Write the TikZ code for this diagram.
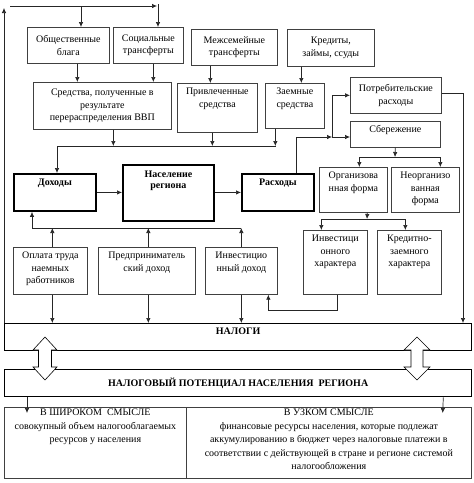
\documentclass[tikz,border=0pt]{standalone}
\usepackage{fontspec}
\setmainfont{Liberation Serif}
\usetikzlibrary{arrows.meta}
\newcommand{\tbx}[4][5pt]{\parbox[c][#3][t]{#2}{\centering\vspace*{#1}#4\par}}
\newcommand{\cbx}[3]{\parbox[c][#2][c]{#1}{\centering #3\par}}
\begin{document}
\begin{tikzpicture}[x=1pt,y=-1pt,
  box/.style={draw=black!75,line width=0.7pt,inner sep=0pt,anchor=north west,
    font=\fontsize{10}{12.5}\selectfont},
  thickbox/.style={box,draw=black,line width=1.8pt,font=\fontsize{10}{11.5}\selectfont\bfseries},
  taxbox/.style={box,draw=black,line width=1.3pt,font=\fontsize{10}{12}\selectfont\bfseries},
  cell/.style={box,draw=black!75,line width=0.7pt,font=\fontsize{10}{13.5}\selectfont},
  arr/.style={draw=black!85,line width=0.7pt,-{Latex[length=5pt,width=4.5pt]}},
  ln/.style={draw=black!85,line width=0.7pt},
  dbl/.style={draw=black,line width=0.6pt,fill=white}]
\useasboundingbox (0,0) rectangle (474,483);

% boxes
\node[box] (ob) at (27,27) {\cbx{82pt}{36pt}{Общественные\\блага}};
\node[box] (st) at (113,27) {\cbx{70pt}{36pt}{Социальные\\трансферты}};
\node[box] (mt) at (191,29) {\cbx{86pt}{36pt}{Межсемейные\\трансферты}};
\node[box] (kr) at (287,29) {\cbx{87pt}{37pt}{Кредиты,\\займы, ссуды}};
\node[box] (sr) at (33,82) {\cbx{138pt}{47pt}{Средства, полученные в\\результате\\перераспределения ВВП}};
\node[box] (pr) at (177,83) {\tbx{80pt}{49pt}{Привлеченные\\средства}};
\node[box] (zs) at (265,83) {\tbx{59pt}{45pt}{Заемные\\средства}};
\node[box] (pot) at (350,77) {\cbx{91pt}{36pt}{Потребительские\\расходы}};
\node[box] (sb) at (350,121) {\tbx[4pt]{90pt}{26pt}{Сбережение}};
\node[thickbox] (dh) at (13,173) {\tbx{82pt}{37pt}{Доходы}};
\node[thickbox] (nas) at (122,164) {\tbx[6pt]{91pt}{56pt}{Население\\региона}};
\node[thickbox] (rs) at (241,173) {\tbx{72pt}{37pt}{Расходы}};
\node[box] (org) at (319,167) {\tbx{68pt}{45pt}{Организова\\нная форма}};
\node[box] (neo) at (391,167) {\tbx{68pt}{45pt}{Неорганизо\\ванная\\форма}};
\node[box] (inv) at (303,230) {\tbx{64pt}{64pt}{Инвестици\\онного\\характера}};
\node[box] (kz) at (377,230) {\tbx{64pt}{64pt}{Кредитно-\\заемного\\характера}};
\node[box] (op) at (13,247) {\tbx{74pt}{47pt}{Оплата труда\\наемных\\работников}};
\node[box] (pd) at (98,247) {\tbx{97pt}{47pt}{Предприниматель\\ский доход}};
\node[box] (id) at (205,247) {\tbx{72pt}{47pt}{Инвестицио\\нный доход}};
\node[taxbox] (nal) at (4,323) {\tbx[4pt]{467pt}{27pt}{НАЛОГИ}};
\node[taxbox] (ptn) at (4,369) {\cbx{467pt}{27pt}{НАЛОГОВЫЙ ПОТЕНЦИАЛ НАСЕЛЕНИЯ\ \ РЕГИОНА}};
\node[cell] (wide) at (4,407) {\tbx[2pt]{182pt}{71pt}{В ШИРОКОМ\ \ СМЫСЛЕ\\совокупный объем налогооблагаемых\\ресурсов у населения}};
\node[cell] (narrow) at (186,407) {\tbx[2pt]{285pt}{71pt}{В УЗКОМ СМЫСЛЕ\\финансовые ресурсы населения, которые подлежат\\аккумулированию в бюджет через налоговые платежи в\\соответствии с действующей в стране и регионе системой\\налогообложения}};

% coordinates
\coordinate (lt) at (4,8);
\coordinate (t1) at (10,6);
\coordinate (t2) at (157,6);
\coordinate (a1) at (81,6);
\coordinate (a2) at (158,4);
\coordinate (c1) at (57,146);
\coordinate (c2) at (276,146);
\coordinate (j1) at (332,137);
\coordinate (rr) at (463,93);
\coordinate (s1) at (395,157);
\coordinate (o1) at (367,219);
\coordinate (b1) at (32,228);
\coordinate (b2) at (241,228);

% top loop
\draw[arr] (nal.north west) -- (lt);
\draw[arr] (t1) -- (t2);
\draw[arr] (a1) -- (a1 |- ob.north);
\draw[arr] (a2) -- (a2 |- st.north);

% sources to intermediate
\draw[arr] ([xshift=9pt]ob.south) -- ([xshift=9pt]ob.south |- sr.north);
\draw[arr] ([xshift=5pt]st.south) -- ([xshift=5pt]st.south |- sr.north);
\draw[arr] ([xshift=-24pt]mt.south) -- ([xshift=-24pt]mt.south |- pr.north);
\draw[arr] ([xshift=-29.5pt]kr.south) -- ([xshift=-29.5pt]kr.south |- zs.north);

% collection to income
\draw[ln] (c1) -- (c2);
\draw[arr] ([xshift=11pt]sr.south) -- ([xshift=11pt]sr.south |- c1);
\draw[arr] ([xshift=-5pt]pr.south) -- ([xshift=-5pt]pr.south |- c1);
\draw[arr] ([xshift=-19.5pt]zs.south) -- ([xshift=-19.5pt]zs.south |- c1);
\draw[arr] (c1) -- (c1 |- dh.north);

% main chain
\draw[arr] (dh.east) -- (dh.east -| nas.west);
\draw[arr] (rs.west -| nas.east) -- (rs.west);

% expenses
\draw[arr] ([xshift=18pt]rs.north) |- (j1);
\draw[arr] (j1) -- (j1 -| sb.west);
\draw[arr] (j1) |- (pot.west);
\draw[arr] (pot.east |- rr) -| (rr |- nal.north);

% savings
\draw[arr] (sb.south) -- (s1);
\draw[arr] (s1) -| ([xshift=6pt]org.north);
\draw[arr] (s1) -| ([xshift=15pt]neo.north);
\draw[arr] ([xshift=14pt]org.south) -- (o1);
\draw[arr] (o1) -| ([xshift=-14pt]inv.north);
\draw[arr] (o1) -| ([xshift=-4pt]kz.north);
\draw[arr] ([xshift=2pt]inv.south) -- ++(0,16) -| ([xshift=27pt]id.south);

% income sources
\draw[ln] (b1) -- (b2);
\draw[arr] ([xshift=2pt]op.north) -- ([xshift=2pt]op.north |- b1);
\draw[arr] ([xshift=1.5pt]pd.north) -- ([xshift=1.5pt]pd.north |- b1);
\draw[arr] (id.north) -- (id.north |- b1);
\draw[arr] (b1) -- (b1 |- dh.south);

% to taxes
\draw[arr] ([xshift=2pt]op.south) -- ([xshift=2pt]op.south |- nal.north);
\draw[arr] ([xshift=1.5pt]pd.south) -- ([xshift=1.5pt]pd.south |- nal.north);
\draw[arr] (id.south) -- (id.south |- nal.north);

% double arrows
\draw[dbl] (45,337) -- (57,350) -- (51.5,350) -- (51.5,367) -- (57,367) -- (45,380)
  -- (33,367) -- (38.5,367) -- (38.5,350) -- (33,350) -- cycle;
\draw[dbl] (417,337) -- (430,350) -- (423,350) -- (423,367) -- (430,367) -- (417,380)
  -- (404,367) -- (411,367) -- (411,350) -- (404,350) -- cycle;

% bottom arrows
\draw[arr] ([xshift=23pt]ptn.south west) -- ([xshift=23pt,yshift=-6pt]wide.north west);
\draw[arr] ([xshift=-29pt]ptn.south east) -- ([xshift=-29pt,yshift=-6pt]narrow.north east);
\end{tikzpicture}
\end{document}
